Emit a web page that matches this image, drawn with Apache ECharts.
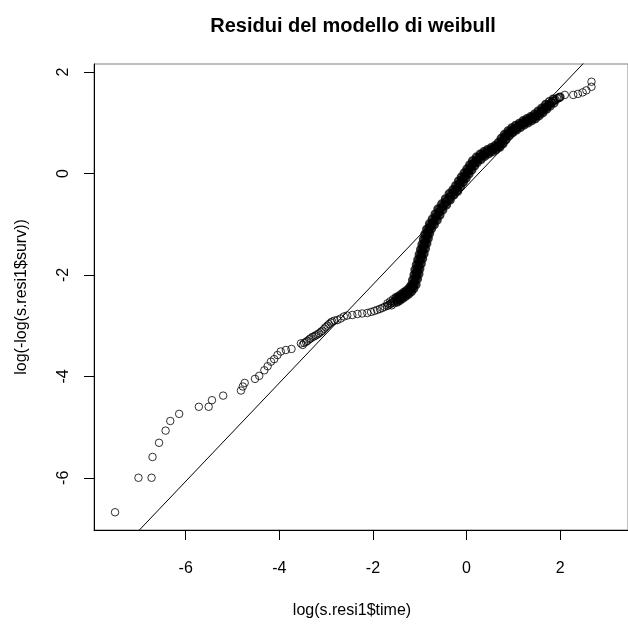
<!DOCTYPE html>
<html>
<head>
<meta charset="utf-8">
<script src="https://cdn.jsdelivr.net/npm/echarts@6/dist/echarts.min.js"></script>
<style>
html,body{margin:0;padding:0;background:#fff;}
#chart{width:628px;height:628px;}
</style>
</head>
<body>
<div id="chart"></div>
<script>
// ---- data ----
const titleText = 'Residui del modello di weibull';
const xAxisTitle = 'log(s.resi1$time)';
const yAxisTitle = 'log(-log(s.resi1$surv))';
const xTicks = [-6, -4, -2, 0, 2];
const yTicks = [-6, -4, -2, 0, 2];

// sparse lower-left points [log(time), log(-log(surv))]
const tailPoints = [
  [-7.51,-6.68],[-7.01,-6.00],[-6.73,-6.00],[-6.71,-5.59],[-6.57,-5.31],[-6.43,-5.07],
  [-6.33,-4.88],[-6.14,-4.74],[-5.72,-4.60],[-5.51,-4.60],[-5.44,-4.47],[-5.20,-4.38],
  [-4.82,-4.28],[-4.78,-4.20],[-4.74,-4.13],[-4.52,-4.05],[-4.43,-3.99],[-4.32,-3.88],
  [-4.25,-3.80],[-4.18,-3.71],[-4.11,-3.66],[-4.04,-3.58],[-3.97,-3.51],[-3.86,-3.48],
  [-3.74,-3.46]
];
// middle, partly overlapping points
const midPoints = [
  [-3.54,-3.35],[-3.50,-3.38],[-3.47,-3.34],[-3.43,-3.32],[-3.40,-3.30],[-3.36,-3.27],
  [-3.33,-3.25],[-3.29,-3.22],[-3.25,-3.21],[-3.22,-3.19],[-3.18,-3.17],[-3.15,-3.15],
  [-3.11,-3.12],[-3.08,-3.10],[-3.04,-3.06],[-3.01,-3.03],[-2.97,-3.00],[-2.94,-2.97],
  [-2.90,-2.94],[-2.87,-2.92],[-2.82,-2.90],[-2.76,-2.89],[-2.69,-2.86],[-2.62,-2.82],
  [-2.55,-2.80],[-2.44,-2.79],[-2.33,-2.77],[-2.23,-2.76],[-2.12,-2.75],[-2.04,-2.73],
  [-1.97,-2.71],[-1.91,-2.69],[-1.85,-2.67],[-1.80,-2.65],[-1.75,-2.63],[-1.70,-2.61],
  [-1.67,-2.60],[-1.64,-2.58],[-1.61,-2.56],[-1.58,-2.54],[-1.55,-2.52],[-1.52,-2.50],
  [-1.49,-2.49],[-1.69,-2.56],[-1.60,-2.60],[-1.63,-2.52],[-1.54,-2.56],[-1.57,-2.48]
];
// dense band: points along its middle
const densePoints = [
  [-1.46,-2.47],[-1.43,-2.46],[-1.40,-2.44],[-1.37,-2.42],[-1.34,-2.40],
  [-1.31,-2.38],[-1.28,-2.36],[-1.25,-2.34],[-1.22,-2.31],[-1.19,-2.28],[-1.17,-2.25],
  [-1.15,-2.23],[-1.13,-2.20],[-1.11,-2.14],[-1.10,-2.09],[-1.08,-2.04],[-1.07,-1.99],
  [-1.06,-1.94],[-1.05,-1.89],[-1.03,-1.84],[-1.02,-1.79],[-1.01,-1.74],[-0.99,-1.69],
  [-0.97,-1.64],[-0.96,-1.59],[-0.95,-1.54],[-0.93,-1.49],[-0.92,-1.44],[-0.90,-1.39],
  [-0.88,-1.34],[-0.87,-1.29],[-0.85,-1.24],[-0.84,-1.19],[-0.82,-1.14],[-0.80,-1.09],
  [-0.77,-1.04],[-0.74,-1.00],[-0.71,-0.96],[-0.68,-0.91],[-0.65,-0.86],[-0.62,-0.81],
  [-0.59,-0.76],[-0.56,-0.71],[-0.52,-0.66],[-0.48,-0.61],[-0.44,-0.56],[-0.40,-0.51],
  [-0.36,-0.46],[-0.32,-0.41],[-0.28,-0.37],[-0.24,-0.34],[-0.21,-0.30],[-0.18,-0.25],
  [-0.15,-0.20],[-0.12,-0.16],[-0.09,-0.12],[-0.06,-0.08],[-0.03,-0.04],[0.00,0.00],
  [0.03,0.04],[0.06,0.08],[0.09,0.12],[0.12,0.16],[0.15,0.20],[0.18,0.23],
  [0.22,0.27],[0.26,0.30],[0.30,0.33],[0.34,0.36],[0.38,0.38],[0.42,0.41],
  [0.46,0.43],[0.50,0.45],[0.54,0.47],[0.58,0.49],[0.62,0.51],[0.66,0.53],
  [0.70,0.56],[0.73,0.60],[0.76,0.64],[0.79,0.68],[0.82,0.72],[0.86,0.76],
  [0.90,0.79],[0.94,0.82],[0.98,0.85],[1.02,0.88],[1.06,0.90],[1.10,0.93],
  [1.14,0.95],[1.18,0.97],[1.22,1.00],[1.26,1.02],[1.30,1.04],[1.34,1.06],
  [1.38,1.08],[1.42,1.10],[1.46,1.12],[1.50,1.15],[1.54,1.18],[1.58,1.21],
  [1.62,1.24],[1.66,1.28],[1.70,1.31],[1.74,1.34],[1.78,1.37]
];
// dense band: points near its two edges
const denseEdgePoints = [
  [-1.48,-2.53],
  [-1.51,-2.45],[-1.42,-2.50],[-1.45,-2.42],[-1.36,-2.46],[-1.39,-2.38],[-1.30,-2.42],
  [-1.33,-2.34],[-1.24,-2.38],[-1.27,-2.30],[-1.18,-2.33],[-1.21,-2.24],[-1.13,-2.27],
  [-1.17,-2.19],[-1.08,-2.19],[-1.15,-2.10],[-1.05,-2.08],[-1.12,-2.00],[-1.02,-1.98],
  [-1.10,-1.90],[-1.00,-1.88],[-1.07,-1.80],[-0.97,-1.78],[-1.04,-1.70],[-0.94,-1.68],
  [-1.01,-1.60],[-0.91,-1.58],[-0.98,-1.50],[-0.88,-1.48],[-0.95,-1.40],[-0.85,-1.38],
  [-0.92,-1.30],[-0.82,-1.28],[-0.89,-1.20],[-0.79,-1.18],[-0.85,-1.10],[-0.75,-1.09],
  [-0.79,-0.99],[-0.69,-1.01],[-0.73,-0.90],[-0.63,-0.92],[-0.67,-0.80],[-0.57,-0.82],
  [-0.61,-0.70],[-0.51,-0.72],[-0.53,-0.60],[-0.43,-0.62],[-0.45,-0.50],[-0.35,-0.52],
  [-0.37,-0.40],[-0.27,-0.42],[-0.29,-0.32],[-0.19,-0.35],[-0.23,-0.24],[-0.13,-0.26],
  [-0.17,-0.15],[-0.07,-0.17],[-0.11,-0.07],[-0.01,-0.09],[-0.05,0.01],[0.05,-0.01],
  [0.01,0.09],[0.11,0.07],[0.07,0.17],[0.17,0.15],[0.13,0.25],[0.23,0.22],
  [0.21,0.32],[0.31,0.28],[0.29,0.38],[0.39,0.34],[0.37,0.43],[0.47,0.39],
  [0.45,0.47],[0.55,0.43],[0.53,0.51],[0.63,0.47],[0.61,0.55],[0.71,0.52],
  [0.68,0.61],[0.78,0.59],[0.74,0.69],[0.84,0.67],[0.81,0.77],[0.91,0.75],
  [0.89,0.84],[0.99,0.81],[0.97,0.90],[1.07,0.86],[1.05,0.95],[1.15,0.91],
  [1.13,0.99],[1.23,0.96],[1.21,1.04],[1.31,1.00],[1.29,1.08],[1.39,1.04],
  [1.37,1.12],[1.47,1.08],[1.45,1.17],[1.55,1.14],[1.53,1.23],[1.63,1.20],
  [1.61,1.29],[1.71,1.27],[1.69,1.36]
];
// upper end of the band, circles start to separate again
const bandEndPoints = [
  [1.79,1.33],[1.77,1.42],[1.82,1.40],[1.87,1.39],[1.85,1.47],[1.86,1.43],
  [1.90,1.45],[1.94,1.48],[1.98,1.50],[2.00,1.51]
];
// upper-right open circles
const topPoints = [
  [2.10,1.55],[2.28,1.55],[2.38,1.57],[2.48,1.60],[2.56,1.64],[2.67,1.71],[2.67,1.81]
];
// reference line y = a + b x
const lineIntercept = -0.25;
const lineSlope = 0.97;

// ---- chart ----
const xMin = -7.96, xMax = 3.45;
const yMin = -7.03, yMax = 2.16;
const openPoints = tailPoints.concat(midPoints, topPoints);
const bandPoints = densePoints.concat(denseEdgePoints);
const lineData = [xMin, xMax].map(x => [x, lineIntercept + lineSlope * x]);

const FONT = '"Liberation Sans", Arial, sans-serif';
const chart = echarts.init(document.getElementById('chart'), null, {renderer: 'canvas'});
chart.setOption({
  animation: false,
  backgroundColor: '#fff',
  title: {
    text: titleText,
    left: 348, top: 11, textAlign: 'center',
    textStyle: {fontFamily: FONT, fontSize: 20, fontWeight: 'bold', color: '#000'}
  },
  grid: {
    left: 94, top: 64, right: -2, bottom: 98,
    show: true, borderColor: '#808080', borderWidth: 1, backgroundColor: 'transparent'
  },
  xAxis: {
    type: 'value', min: xMin, max: xMax,
    name: xAxisTitle, nameLocation: 'middle', nameGap: 73,
    nameTextStyle: {fontFamily: FONT, fontSize: 16, color: '#000', padding: [0, 18, 0, 0]},
    axisLine: {show: true, onZero: false, lineStyle: {color: '#000', width: 1}},
    axisTick: {show: true, length: 10, customValues: xTicks, lineStyle: {color: '#000'}},
    axisLabel: {show: true, margin: 31, customValues: xTicks, fontFamily: FONT, fontSize: 16, color: '#000',
      formatter: v => String(v)},
    splitLine: {show: false}
  },
  yAxis: {
    type: 'value', min: yMin, max: yMax,
    name: yAxisTitle, nameLocation: 'middle', nameGap: 64, nameRotate: 90,
    nameTextStyle: {fontFamily: FONT, fontSize: 16, color: '#000'},
    axisLine: {show: true, onZero: false, lineStyle: {color: '#000', width: 1}},
    axisTick: {show: true, length: 10, customValues: yTicks, lineStyle: {color: '#000'}},
    axisLabel: {show: true, margin: 22, rotate: 90, customValues: yTicks, fontFamily: FONT, fontSize: 16, color: '#000',
      formatter: v => String(v)},
    splitLine: {show: false}
  },
  series: [
    {
      type: 'line', data: lineData, showSymbol: false, symbol: 'none', clip: true,
      lineStyle: {color: '#000', width: 1}, silent: true, z: 2
    },
    {
      type: 'scatter', data: openPoints, symbol: 'circle', symbolSize: 7.5, clip: true,
      itemStyle: {color: 'rgba(0,0,0,0)', borderColor: '#000', borderWidth: 1}, z: 3
    },
    {
      type: 'scatter', data: bandEndPoints, symbol: 'circle', symbolSize: 7.5, clip: true,
      itemStyle: {color: 'rgba(0,0,0,0)', borderColor: '#000', borderWidth: 1.5}, z: 3
    },
    {
      type: 'scatter', data: bandPoints, symbol: 'circle', symbolSize: 7, clip: true,
      itemStyle: {color: 'rgba(0,0,0,0)', borderColor: '#000', borderWidth: 2.4}, z: 3
    }
  ]
});
</script>
</body>
</html>
